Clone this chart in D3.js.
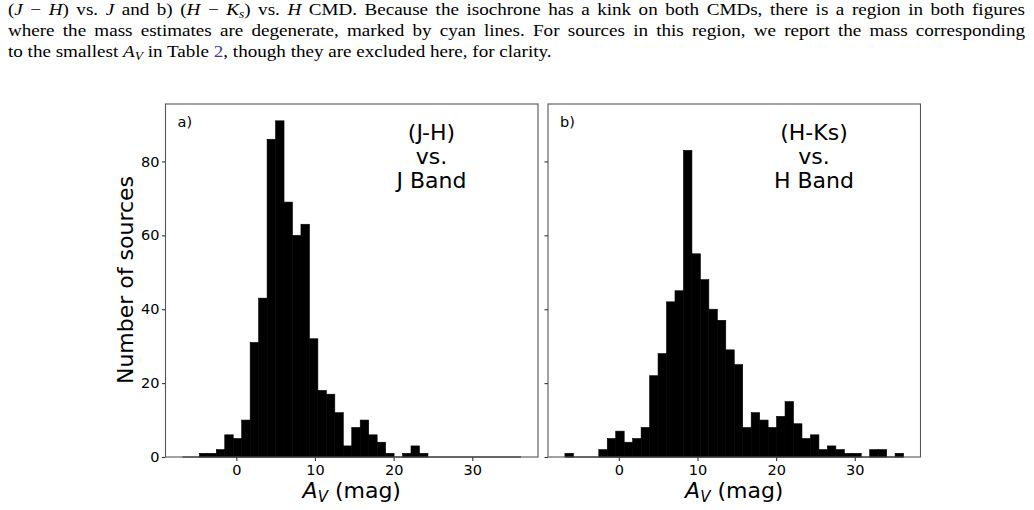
<!DOCTYPE html>
<html>
<head>
    <meta charset="utf-8">
    <title>av-histograms</title>
    <script type="text/javascript" src="https://cdn.jsdelivr.net/npm/d3@7"></script>
    <style type="text/css">
        body { margin: 0; background: #fff; }
    </style>
</head>
<body>
<div id="app"></div>

<script type="text/javascript">
    // bins shared by both panels (A_V, mag)
    const binStart = -6.85, binEnd = 36.2, binCount = 40;

    // counts per bin
    const countsJH = [0, 0, 1, 1, 2, 6, 5, 10, 31, 43, 86, 91, 69, 60, 63, 32, 18, 17, 12, 3,
        8, 10, 6, 4, 1, 0, 1, 3, 1, 0, 0, 0, 0, 0, 0, 0, 0, 0, 0, 0];
    const countsHK = [1, 0, 0, 0, 2, 5, 7, 4, 5, 8, 22, 28, 42, 45, 83, 55, 48, 40, 37, 29,
        25, 8, 12, 10, 8, 11, 15, 9, 5, 6, 2, 3, 2, 1, 1, 0, 2, 2, 0, 1];

    const xTicks = [0, 10, 20, 30];
    const yTicks = [0, 20, 40, 60, 80];
    const panelTags = ["a)", "b)"];
    const panelTitles = [["(J-H)", "vs.", "J Band"], ["(H-Ks)", "vs.", "H Band"]];

    // caption pieces: 0 plain, 1 italic, 2 italic subscript, 3 link
    const captionLines = [
        [["(", 0], ["J", 1], [" \u2212 ", 0], ["H", 1], [") vs. ", 0], ["J", 1], [" and b) (", 0], ["H", 1], [" \u2212 ", 0], ["K", 1], ["s", 2],
            [") vs. ", 0], ["H", 1], [" CMD. Because the isochrone has a kink on both CMDs, there is a region in both figures", 0]],
        [["where the mass estimates are degenerate, marked by cyan lines. For sources in this region, we report the mass corresponding", 0]],
        [["to the smallest ", 0], ["A", 1], ["V", 2], [" in Table ", 0], ["2", 3], [", though they are excluded here, for clarity.", 0]]
    ];

    !function () {
        const W = 1034, H = 510;
        const big = '22px', small = '14.5px';
        const svg = d3.select('#app').append('svg').attr('width', W).attr('height', H);

        ///caption above the figure (cut from the paper)
        const capY = [15, 36, 57];
        const capG = svg.append('g');
        const capTexts = captionLines.map(function (parts, li) {
            const t = capG.append('text')
                .attr('x', 8).attr('y', capY[li])
                .style('font-family', '"Liberation Serif", serif')
                .style('font-size', '17px');
            parts.forEach(function (p, i) {
                const s = t.append('tspan').text(p[0]);
                if (p[1] === 1) s.style('font-style', 'italic');
                if (p[1] === 2) s.style('font-style', 'italic').style('font-size', '12px').attr('dy', 3);
                if (p[1] === 3) s.attr('fill', '#3b3bb0');
                if (i > 0 && parts[i - 1][1] === 2) s.attr('dy', -3);
            });
            return t;
        });
        // the paper font is wider than Times: stretch so the last line ends where it does
        const sx = (552 - 8) / capTexts[2].node().getComputedTextLength();
        capTexts.forEach(function (t, li) {
            t.attr('x', 8 / sx).attr('transform', 'scale(' + sx + ',1)');
            if (li < 2) {
                const len = t.node().getComputedTextLength();
                const spaces = captionLines[li].map(function (p) { return p[0]; }).join('').split(' ').length - 1;
                t.style('word-spacing', ((1025 - 8) / sx - len) / spaces + 'px');
            }
        });

        ///panel geometry
        const panelLeft = [165.5, 548], panelW = 372.5;
        const top = 104, bottom = 457;
        const span = binEnd - binStart;
        const binW = span / binCount;
        const edges = d3.range(binCount + 1).map(function (i) { return binStart + i * binW; });
        const yMax = d3.max(countsJH.concat(countsHK)) * 1.05;

        const y = d3.scaleLinear().domain([0, yMax]).range([bottom, top]);

        [countsJH, countsHK].forEach(function (counts, pi) {
            const x0 = panelLeft[pi];
            const x = d3.scaleLinear()
                .domain([binStart - 0.05 * span, binEnd + 0.05 * span])
                .range([x0, x0 + panelW]);
            const g = svg.append('g');

            ///bars
            g.selectAll('rect.bar')
                .data(counts)
                .enter()
                .append('rect')
                .attr('class', 'bar')
                .attr('x', function (d, i) { return x(edges[i]); })
                .attr('y', function (d) { return y(d); })
                .attr('width', function (d, i) { return x(edges[i + 1]) - x(edges[i]); })
                .attr('height', function (d) { return y(0) - y(d); })
                .attr('fill', '#000')
                .attr('stroke', '#000')
                .attr('stroke-width', 0.6);

            // zero-height bins still show their outline on the baseline
            g.append('line')
                .attr('x1', x(binStart)).attr('x2', x(binEnd))
                .attr('y1', y(0)).attr('y2', y(0))
                .attr('stroke', '#000').attr('stroke-width', 1.2);

            ///axes
            const ax = g.append('g')
                .attr('transform', 'translate(0,' + bottom + ')')
                .call(d3.axisBottom(x).tickValues(xTicks).tickSize(4).tickPadding(4));
            const ay = g.append('g')
                .attr('transform', 'translate(' + x0 + ',0)')
                .call(d3.axisLeft(y).tickValues(yTicks).tickSize(3.5).tickPadding(2.5)
                    .tickFormat(pi === 0 ? d3.format('d') : function () { return ''; }));
            [ax, ay].forEach(function (a) {
                a.select('.domain').remove();
                a.selectAll('line').attr('stroke', '#333').attr('stroke-width', 1.1);
                a.selectAll('text')
                    .attr('fill', '#000')
                    .style('font-family', '"DejaVu Sans"')
                    .style('font-size', small);
            });

            ///frame
            g.append('rect')
                .attr('x', x0).attr('y', top)
                .attr('width', panelW).attr('height', bottom - top)
                .attr('fill', 'none').attr('stroke', '#555').attr('stroke-width', 1.1);

            ///panel tag
            g.append('text')
                .attr('x', x0 + 12).attr('y', 127)
                .style('font-family', '"DejaVu Sans"').style('font-size', small)
                .text(panelTags[pi]);

            ///CMD title
            g.selectAll('text.title')
                .data(panelTitles[pi])
                .enter()
                .append('text')
                .attr('class', 'title')
                .attr('x', x0 + 266)
                .attr('y', function (d, i) { return 139.5 + i * 24; })
                .attr('text-anchor', 'middle')
                .style('font-family', '"DejaVu Sans"').style('font-size', big)
                .text(function (d) { return d; });

            ///x label
            const xl = g.append('text')
                .attr('x', x0 + panelW / 2).attr('y', 498)
                .attr('text-anchor', 'middle')
                .style('font-family', '"DejaVu Sans"').style('font-size', big);
            xl.append('tspan').style('font-style', 'italic').text('A');
            xl.append('tspan').style('font-style', 'italic').style('font-size', '15px').attr('dy', 3.5).text('V');
            xl.append('tspan').attr('dy', -3.5).text(' (mag)');
        });

        ///y label
        svg.append('text')
            .attr('transform', 'translate(132.5,280) rotate(-90)')
            .attr('text-anchor', 'middle')
            .style('font-family', '"DejaVu Sans"').style('font-size', big)
            .text('Number of sources');
    }();
</script>
</body>
</html>
